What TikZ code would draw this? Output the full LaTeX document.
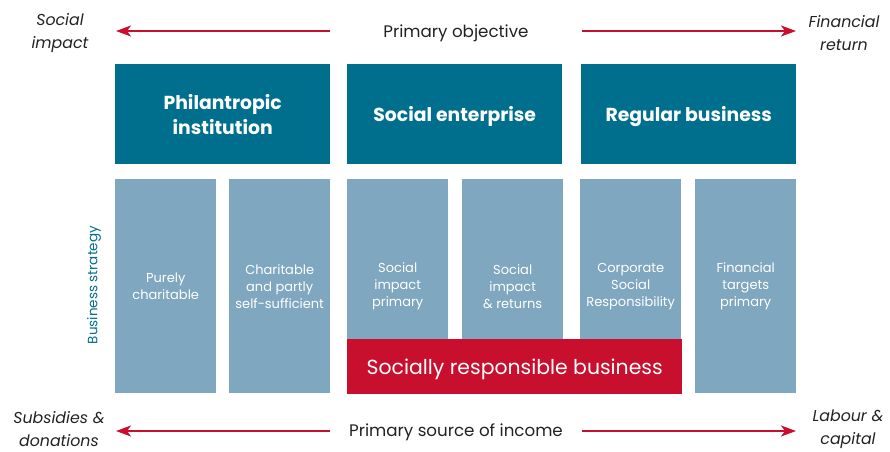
\documentclass[tikz,border=0pt]{standalone}
\usepackage{fontspec}
\setmainfont{Poppins}
\usetikzlibrary{arrows.meta}
\definecolor{darkteal}{HTML}{006F8E}
\definecolor{lightteal}{HTML}{7FA7BF}
\definecolor{redbar}{HTML}{C8102E}
\definecolor{captext}{HTML}{222222}

\begin{document}
\begin{tikzpicture}[x=1pt, y=-1pt,
		head/.style={fill=darkteal, text=white, font=\bfseries\fontsize{18.8}{25}\selectfont, align=center, inner sep=0pt, minimum width=215pt, minimum height=100pt, anchor=north west},
		strat/.style={fill=lightteal, text=white, font=\fontsize{13}{17}\selectfont, align=center, inner sep=0pt, minimum width=101pt, minimum height=214pt, anchor=north west},
		side/.style={text=captext, font=\itshape\fontsize{15.8}{23}\selectfont, align=center},
		axis/.style={text=captext, font=\fontsize{16.7}{20}\selectfont},
		arr/.style={draw=redbar, line width=2pt, -{Stealth[length=15pt, width=11pt, inset=4pt]}}]
		\useasboundingbox (0,0) rectangle (890,451);

		% top row
		\node[head] (phil) at (115,64) {Philantropic\\institution};
		\node[head, text height=19pt, text depth=4pt] (socent) at (347,64) {Social enterprise};
		\node[head, text height=19pt, text depth=4pt] (regbiz) at (581,64) {Regular business};

		% business strategies
		\node[strat] (pure) at (115,179) {Purely\\charitable};
		\node[strat] (partly) at (229,179) {Charitable\\and partly\\self-sufficient};
		\node[strat] (impprim) at (347,179) {Social\\impact\\primary};
		\node[strat] (impret) at (462,179) {Social\\impact\\\& returns};
		\node[strat] (csr) at (580,179) {Corporate\\Social\\Responsibility};
		\node[strat] (fintgt) at (695,179) {Financial\\targets\\primary};
		\node[fill=redbar, text=white, font=\fontsize{20.4}{24}\selectfont, inner sep=0pt, text height=20pt, text depth=4pt, minimum width=335pt, minimum height=55pt, anchor=north west] (srb) at (347,339) {Socially responsible business};

		\node[rotate=90, text=darkteal, font=\fontsize{13.5}{16}\selectfont] (strategy) at (94,285) {Business strategy};

		% objective axis
		\node[axis] (objective) at (456,33) {Primary objective};
		\node[side] (socimpact) at (60,33) {Social\\impact};
		\node[side] (finreturn) at (844,33) {Financial\\return};
		\coordinate (objL) at (330,31);
		\coordinate (objR) at (582,31);
		\coordinate (impTip) at (116,31);
		\coordinate (finTip) at (796,31);
		\draw[arr] (objL) -- (impTip);
		\draw[arr] (objR) -- (finTip);

		% income axis
		\node[axis] (income) at (456,432) {Primary source of income};
		\node[side] (subsid) at (59,429) {Subsidies \&\\donations};
		\node[side] (labour) at (848,429) {Labour \&\\capital};
		\coordinate (incL) at (330,431);
		\coordinate (incR) at (582,431);
		\coordinate (subTip) at (116,431);
		\coordinate (labTip) at (796,431);
		\draw[arr] (incL) -- (subTip);
		\draw[arr] (incR) -- (labTip);
	\end{tikzpicture}
\end{document}
